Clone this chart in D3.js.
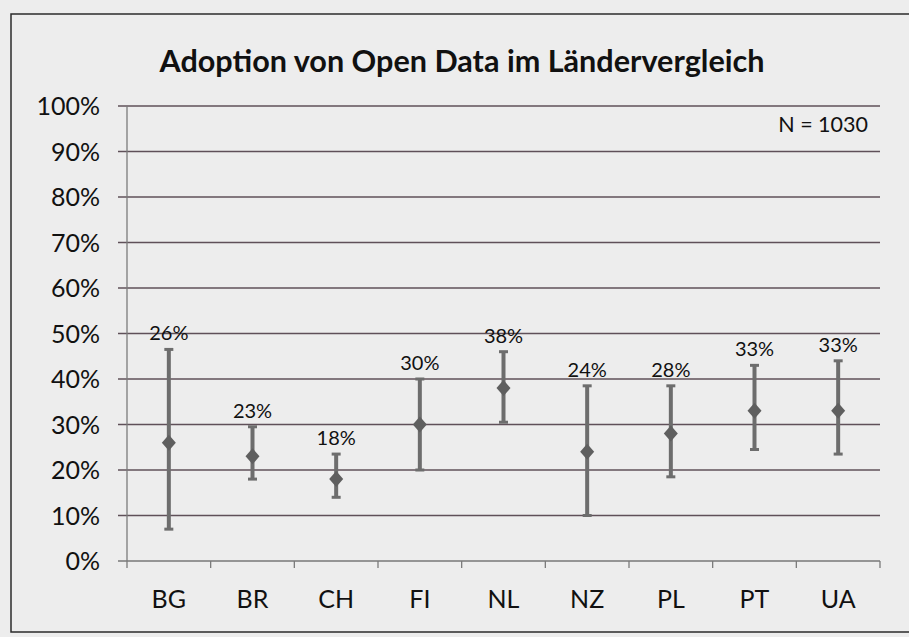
<!DOCTYPE html>
<html>
<head>
<meta charset="utf-8">
<script src="https://cdn.jsdelivr.net/npm/d3@7"></script>
<style>
  html, body { margin: 0; padding: 0; background: #ededed; }
  svg { display: block; }
</style>
</head>
<body>
<div id="chart"></div>
<script>
// ---- data ----
const categories = ["BG", "BR", "CH", "FI", "NL", "NZ", "PL", "PT", "UA"];
const means  = [0.26, 0.23, 0.18, 0.30, 0.38, 0.24, 0.28, 0.33, 0.33];
const lowers = [0.07, 0.18, 0.14, 0.20, 0.305, 0.10, 0.185, 0.245, 0.235];
const uppers = [0.465, 0.295, 0.235, 0.40, 0.46, 0.385, 0.385, 0.43, 0.44];
const yTicks = [0, 0.1, 0.2, 0.3, 0.4, 0.5, 0.6, 0.7, 0.8, 0.9, 1.0];
const title = "Adoption von Open Data im Ländervergleich";
const note = "N = 1030";

// ---- layout ----
const W = 909, H = 637;
const svg = d3.select("#chart").append("svg").attr("width", W).attr("height", H);
const font = "Lato, 'Open Sans', sans-serif";

svg.append("rect").attr("width", W).attr("height", H).attr("fill", "#ededed");

// frame
svg.append("path")
  .attr("d", `M${W + 5},14 H11 V632 H${W + 5}`)
  .attr("fill", "none").attr("stroke", "#2b2b2b").attr("stroke-width", 1.5);

const x0 = 127, x1 = 880;
const x = d3.scaleBand().domain(categories).range([x0, x1]).paddingInner(0).paddingOuter(0);
const y = d3.scaleLinear().domain([0, 1]).range([561, 106]);

// title
svg.append("text")
  .attr("x", 462).attr("y", 72)
  .attr("text-anchor", "middle")
  .attr("font-family", font).attr("font-weight", "bold")
  .attr("font-size", 30).attr("fill", "#111")
  .attr("textLength", 605).attr("lengthAdjust", "spacingAndGlyphs")
  .text(title);

// gridlines
const g = svg.append("g");
g.selectAll("line.grid").data(yTicks).join("line")
  .attr("class", "grid")
  .attr("x1", x0 - 9).attr("x2", x1)
  .attr("y1", d => y(d)).attr("y2", d => y(d))
  .attr("stroke", d => d === 0 ? "#777" : "#5f5059")
  .attr("stroke-width", 1.3);

// y axis labels
g.selectAll("text.ytick").data(yTicks).join("text")
  .attr("class", "ytick")
  .attr("x", 100).attr("y", d => y(d))
  .attr("dy", "0.36em")
  .attr("text-anchor", "end")
  .attr("font-family", font).attr("font-size", 25).attr("fill", "#111")
  .text(d3.format(".0%"));

// y axis line
g.append("line")
  .attr("x1", x0).attr("x2", x0)
  .attr("y1", y(1)).attr("y2", y(0))
  .attr("stroke", "#7a7a7a").attr("stroke-width", 1.3);

// x axis ticks at band boundaries
const bounds = categories.map(c => x(c)).concat([x1]);
g.selectAll("line.xtick").data(bounds).join("line")
  .attr("class", "xtick")
  .attr("x1", d => d).attr("x2", d => d)
  .attr("y1", y(0)).attr("y2", y(0) + 7)
  .attr("stroke", "#7a7a7a").attr("stroke-width", 1.3);

// category labels
g.selectAll("text.xlab").data(categories).join("text")
  .attr("class", "xlab")
  .attr("x", d => x(d) + x.bandwidth() / 2)
  .attr("y", 599).attr("dy", "0.36em")
  .attr("text-anchor", "middle")
  .attr("font-family", font).attr("font-size", 25).attr("fill", "#111")
  .text(d => d);

// data
const data = categories.map((c, i) => ({ c, m: means[i], lo: lowers[i], hi: uppers[i] }));
const cx = d => x(d.c) + x.bandwidth() / 2;
const barColor = "#6d6d6d";

const pts = svg.append("g").selectAll("g").data(data).join("g");
pts.append("line")
  .attr("x1", cx).attr("x2", cx)
  .attr("y1", d => y(d.hi)).attr("y2", d => y(d.lo))
  .attr("stroke", barColor).attr("stroke-width", 4);
pts.append("line")
  .attr("x1", d => cx(d) - 4.5).attr("x2", d => cx(d) + 4.5)
  .attr("y1", d => y(d.hi)).attr("y2", d => y(d.hi))
  .attr("stroke", barColor).attr("stroke-width", 3);
pts.append("line")
  .attr("x1", d => cx(d) - 4.5).attr("x2", d => cx(d) + 4.5)
  .attr("y1", d => y(d.lo)).attr("y2", d => y(d.lo))
  .attr("stroke", barColor).attr("stroke-width", 3);
pts.append("path")
  .attr("transform", d => `translate(${cx(d)},${y(d.m)})`)
  .attr("d", "M0,-8 L7,0 L0,8 L-7,0 Z")
  .attr("fill", "#5f5f5f");
pts.append("text")
  .attr("x", cx)
  .attr("y", d => y(d.hi) - 9)
  .attr("text-anchor", "middle")
  .attr("font-family", font).attr("font-size", 20).attr("fill", "#111")
  .text(d => d3.format(".0%")(d.m));

// note
svg.append("text")
  .attr("x", 868).attr("y", 124).attr("dy", "0.36em")
  .attr("text-anchor", "end")
  .attr("font-family", font).attr("font-size", 21.5).attr("fill", "#111")
  .text(note);
</script>
</body>
</html>
